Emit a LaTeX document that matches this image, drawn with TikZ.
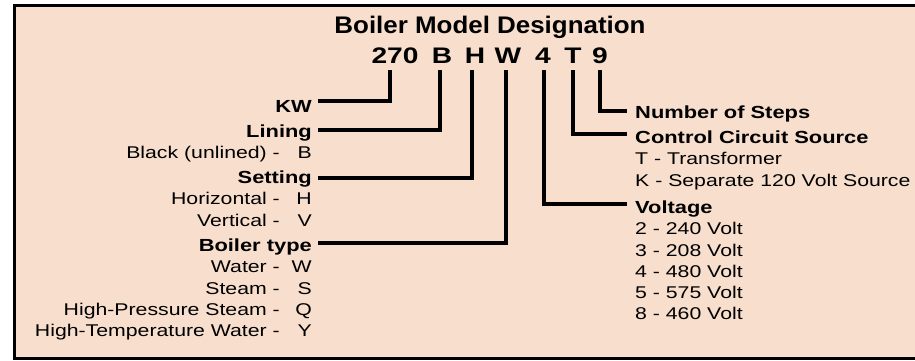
\documentclass[tikz,border=0pt]{standalone}
\usepackage{fontspec}
\setmainfont{Liberation Sans}[FakeStretch=1.25]
\newfontfamily\titlefont{Liberation Sans}[FakeStretch=1.08]
\definecolor{bgpeach}{RGB}{247,222,205}
\tikzset{
  lbl/.style={inner sep=0pt, font=\fontsize{17}{17}\selectfont},
  hd/.style={inner sep=0pt, font=\fontsize{17.5}{17.5}\selectfont\bfseries},
  codech/.style={inner sep=0pt, anchor=base, font=\fontsize{22.5}{22.5}\selectfont\bfseries},
  conn/.style={line width=3.3pt, draw=black},
  frame/.style={line width=2.5pt, draw=black, fill=bgpeach},
}
\begin{document}
\begin{tikzpicture}[x=1pt,y=-1pt]
\useasboundingbox (0,0) rectangle (915,360);
\draw[frame] (14.5,5.5) rectangle (940,358.5);

% title
\node[inner sep=0pt, anchor=base, font=\titlefont\fontsize{24}{24}\selectfont\bfseries] (title) at (490,33) {Boiler Model Designation};

% code characters
\node[codech] (c270) at (395,63) {270};
\node[codech] (cB) at (442,63) {B};
\node[codech] (cH) at (475,63) {H};
\node[codech] (cW) at (508,63) {W};
\node[codech] (c4) at (543,63) {4};
\node[codech] (cT) at (573,63) {T};
\node[codech] (c9) at (600,63) {9};

% tops of connectors under the code characters
\coordinate (t270) at (390,70);
\coordinate (tB) at (440,70);
\coordinate (tH) at (472,70);
\coordinate (tW) at (506,70);
\coordinate (t4) at (544,70);
\coordinate (tT) at (573,70);
\coordinate (t9) at (600,70);

% left headings
\node[hd, anchor=base east] (kw) at (312,112) {KW};
\node[hd, anchor=base east] (lining) at (312,137) {Lining};
\node[lbl, anchor=base east] (bl) at (280,158) {Black (unlined) -};
\node[lbl, anchor=base east] (blc) at (312,158) {B};
\node[hd, anchor=base east] (setting) at (312,183) {Setting};
\node[lbl, anchor=base east] (hz) at (280,204) {Horizontal -};
\node[lbl, anchor=base east] (hzc) at (312,204) {H};
\node[lbl, anchor=base east] (vt) at (280,226) {Vertical -};
\node[lbl, anchor=base east] (vtc) at (312,226) {V};
\node[hd, anchor=base east] (btype) at (312,251.5) {Boiler type};
\node[lbl, anchor=base east] (wa) at (280,272.5) {Water -};
\node[lbl, anchor=base east] (wac) at (312,272.5) {W};
\node[lbl, anchor=base east] (st) at (280,294) {Steam -};
\node[lbl, anchor=base east] (stc) at (312,294) {S};
\node[lbl, anchor=base east] (hp) at (280,315) {High-Pressure Steam -};
\node[lbl, anchor=base east] (hpc) at (312,315) {Q};
\node[lbl, anchor=base east] (ht) at (280,336) {High-Temperature Water -};
\node[lbl, anchor=base east] (htc) at (312,336) {Y};

% right headings
\node[hd, anchor=base west] (steps) at (635,118) {Number of Steps};
\node[hd, anchor=base west] (ccs) at (635,143) {Control Circuit Source};
\node[lbl, anchor=base west] (tr) at (635,164) {T - Transformer};
\node[lbl, anchor=base west] (sep) at (635,186) {K - Separate 120 Volt Source};
\node[hd, anchor=base west] (volt) at (635,213) {Voltage};
\node[lbl, anchor=base west] (v2) at (635,234) {2 - 240 Volt};
\node[lbl, anchor=base west] (v3) at (635,256) {3 - 208 Volt};
\node[lbl, anchor=base west] (v4) at (635,277) {4 - 480 Volt};
\node[lbl, anchor=base west] (v5) at (635,298) {5 - 575 Volt};
\node[lbl, anchor=base west] (v8) at (635,319) {8 - 460 Volt};

% line ends beside the headings
\coordinate (kwL) at (318,101);
\coordinate (liL) at (318,130);
\coordinate (seL) at (318,178);
\coordinate (btL) at (318,243);
\coordinate (nsR) at (627,111);
\coordinate (ccR) at (627,134);
\coordinate (voR) at (627,204);

% connectors
\draw[conn] (kwL) -| (t270);
\draw[conn] (liL) -| (tB);
\draw[conn] (seL) -| (tH);
\draw[conn] (btL) -| (tW);
\draw[conn] (t4) |- (voR);
\draw[conn] (tT) |- (ccR);
\draw[conn] (t9) |- (nsR);
\end{tikzpicture}
\end{document}
